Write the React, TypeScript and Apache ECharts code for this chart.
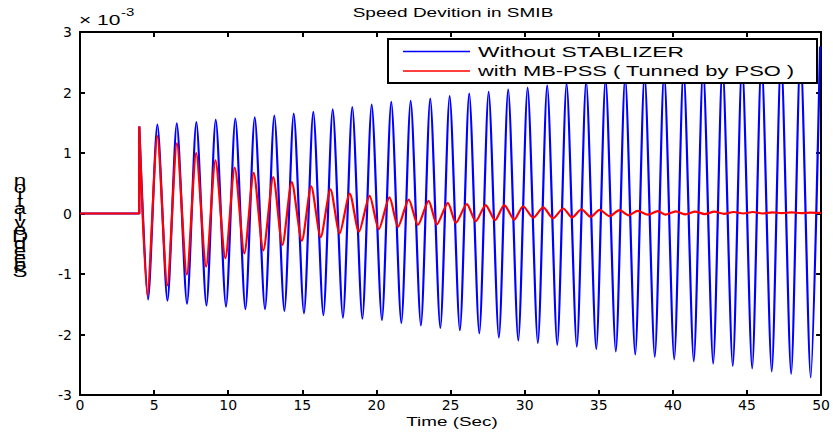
import React, { useEffect, useRef } from "react";
import * as echarts from "echarts";

// Speed deviation (×10^-3)
const startT = [0, 4, 4];
const startV = [0, 0, 1.44];

const blueTroughT = [4.59, 5.9, 7.22, 8.53, 9.85, 11.16, 12.48, 13.79, 15.11, 16.42, 17.74, 19.05, 20.37, 21.68, 23.0, 24.31, 25.63, 26.94, 28.26, 29.57, 30.89, 32.2, 33.52, 34.83, 36.15, 37.46, 38.78, 40.09, 41.41, 42.72, 44.04, 45.35, 46.67, 47.98, 49.3];
const blueTroughV = [-1.42, -1.44, -1.49, -1.52, -1.54, -1.58, -1.58, -1.61, -1.65, -1.68, -1.72, -1.74, -1.76, -1.81, -1.85, -1.89, -1.93, -1.98, -2.05, -2.1, -2.14, -2.17, -2.2, -2.24, -2.28, -2.33, -2.37, -2.41, -2.44, -2.48, -2.52, -2.56, -2.61, -2.65, -2.71];
const bluePeakT = [5.22, 6.53, 7.85, 9.16, 10.48, 11.79, 13.11, 14.42, 15.74, 17.05, 18.37, 19.68, 21.0, 22.31, 23.63, 24.94, 26.26, 27.57, 28.89, 30.2, 31.52, 32.83, 34.15, 35.46, 36.78, 38.09, 39.41, 40.72, 42.04, 43.35, 44.67, 45.98, 47.3, 48.61, 49.93];
const bluePeakV = [1.47, 1.49, 1.51, 1.55, 1.57, 1.59, 1.62, 1.65, 1.68, 1.72, 1.76, 1.8, 1.845, 1.86, 1.9, 1.94, 1.98, 2.01, 2.05, 2.08, 2.12, 2.15, 2.19, 2.22, 2.26, 2.3, 2.34, 2.38, 2.42, 2.46, 2.5, 2.55, 2.6, 2.66, 2.76];

const redT = [0, 4, 4, 4.55, 5.22, 5.89, 6.54, 7.21, 7.84, 8.51, 9.14, 9.81, 10.44, 11.09, 11.72, 12.37, 13.04, 13.66, 14.29, 14.97, 15.6, 16.24, 16.9, 17.52, 18.2, 18.82, 19.54, 20.16, 20.88, 21.46, 22.18, 22.8, 23.52, 24.08, 24.82, 25.36, 26.1, 26.7, 27.37, 28.0, 28.63, 29.3, 29.9, 30.58, 31.25, 31.92, 32.6, 33.2, 33.83, 34.45, 35.06, 35.73, 36.4, 37.0, 37.63, 38.3, 38.98, 39.5, 40.2, 40.85, 41.5, 42.15, 42.8, 43.45, 44.1, 44.75, 45.4, 46.05, 46.7, 47.35, 48.0, 48.65, 49.3, 50];
const redV = [0, 0, 1.44, -1.35, 1.28, -1.19, 1.16, -1.01, 1.0, -0.88, 0.88, -0.74, 0.76, -0.66, 0.67, -0.61, 0.6, -0.52, 0.52, -0.45, 0.45, -0.39, 0.4, -0.33, 0.33, -0.3, 0.29, -0.26, 0.265, -0.22, 0.23, -0.19, 0.21, -0.18, 0.175, -0.155, 0.155, -0.13, 0.14, -0.11, 0.14, -0.1, 0.12, -0.07, 0.1, -0.08, 0.083, -0.066, 0.07, -0.055, 0.06, -0.045, 0.055, -0.03, 0.045, -0.02, 0.04, -0.02, 0.035, -0.015, 0.03, -0.01, 0.03, -0.005, 0.025, 0.0, 0.025, 0.0, 0.02, 0.005, 0.02, 0.005, 0.015, 0.01];

const seriesNames = ["Without STABLIZER", "with MB-PSS ( Tunned by PSO )"];
const titleText = "Speed Devition in SMIB";
const xTitle = "Time (Sec)";
const yTitle = "Speed Deviation";

function buildBlue(): number[][] {
  const d: number[][] = startT.map((t, i) => [t, startV[i]]);
  for (let k = 0; k < blueTroughT.length; k++) {
    d.push([blueTroughT[k], blueTroughV[k]]);
    d.push([bluePeakT[k], bluePeakV[k]]);
  }
  return d;
}

const FONT = "Liberation Sans";

function txt(x: number, y: number, sx: number, text: string, size: number, align: string, extra: any = {}) {
  return {
    type: "text",
    x,
    y,
    scaleX: sx,
    z: 101,
    style: { text, fontSize: size, fontFamily: FONT, fill: "#000", textAlign: align, textVerticalAlign: "middle", ...extra },
  };
}

export default function App() {
  const ref = useRef<HTMLDivElement>(null);
  useEffect(() => {
    if (!ref.current) return;
    const chart = echarts.init(ref.current, undefined, { renderer: "svg" });
    const axisLine = { show: true, onZero: false, lineStyle: { color: "#000", width: 2 } };
    const axisTick = { show: true, inside: true, length: 5, lineStyle: { color: "#000", width: 2 } };
    const labelFont = { color: "#000", fontSize: 14, fontFamily: "DejaVu Sans" };
    chart.setOption({
      animation: false,
      backgroundColor: "#fff",
      grid: { left: 80, right: 9, top: 32, bottom: 38, containLabel: false },
      xAxis: [
        { type: "value", min: 0, max: 50, interval: 5, position: "bottom", axisLine, axisTick,
          axisLabel: { ...labelFont, margin: 3 }, splitLine: { show: false } },
        { type: "value", min: 0, max: 50, interval: 5, position: "top", axisLine, axisTick,
          axisLabel: { show: false }, splitLine: { show: false } },
      ],
      yAxis: [
        { type: "value", min: -3, max: 3, interval: 1, position: "left", axisLine, axisTick,
          axisLabel: { ...labelFont, margin: 8 }, splitLine: { show: false } },
        { type: "value", min: -3, max: 3, interval: 1, position: "right", axisLine, axisTick,
          axisLabel: { show: false }, splitLine: { show: false } },
      ],
      series: [
        { type: "line", name: seriesNames[0], data: buildBlue(), symbol: "none", showSymbol: false,
          smooth: 0.25, lineStyle: { color: "#0000ff", width: 2.2 }, itemStyle: { color: "#0000ff" }, z: 2 },
        { type: "line", name: seriesNames[1], data: redT.map((t, i) => [t, redV[i]]), symbol: "none", showSymbol: false,
          smooth: 0.25, lineStyle: { color: "#ff0000", width: 2.2 }, itemStyle: { color: "#ff0000" }, z: 3 },
      ],
      graphic: [
        txt(453, 12, 1.52, titleText, 12.5, "center"),
        txt(452, 421, 1.45, xTitle, 13, "center"),
        txt(79, 20, 1.5, "× 10", 14, "left"),
        txt(121, 12, 1.5, "-3", 10, "left"),
        txt(20, 226, 1.4, yTitle.split("").filter(c => c !== " ").reverse().join("\n"), 16, "center", { lineHeight: 7 }),
        { type: "rect", z: 100, shape: { x: 388, y: 39, width: 429, height: 44 }, style: { fill: "#fff", stroke: "#000", lineWidth: 2 } },
        { type: "line", z: 101, shape: { x1: 403, y1: 51.5, x2: 470, y2: 51.5 }, style: { stroke: "#0000ff", lineWidth: 1.5 } },
        { type: "line", z: 101, shape: { x1: 403, y1: 71, x2: 470, y2: 71 }, style: { stroke: "#ff0000", lineWidth: 1.5 } },
        txt(478, 52, 1.52, seriesNames[0], 15, "left"),
        txt(478, 71, 1.46, seriesNames[1], 15, "left"),
      ],
    });
    return () => chart.dispose();
  }, []);
  return <div ref={ref} style={{ position: "fixed", left: 0, top: 0, width: 833, height: 433 }} />;
}
